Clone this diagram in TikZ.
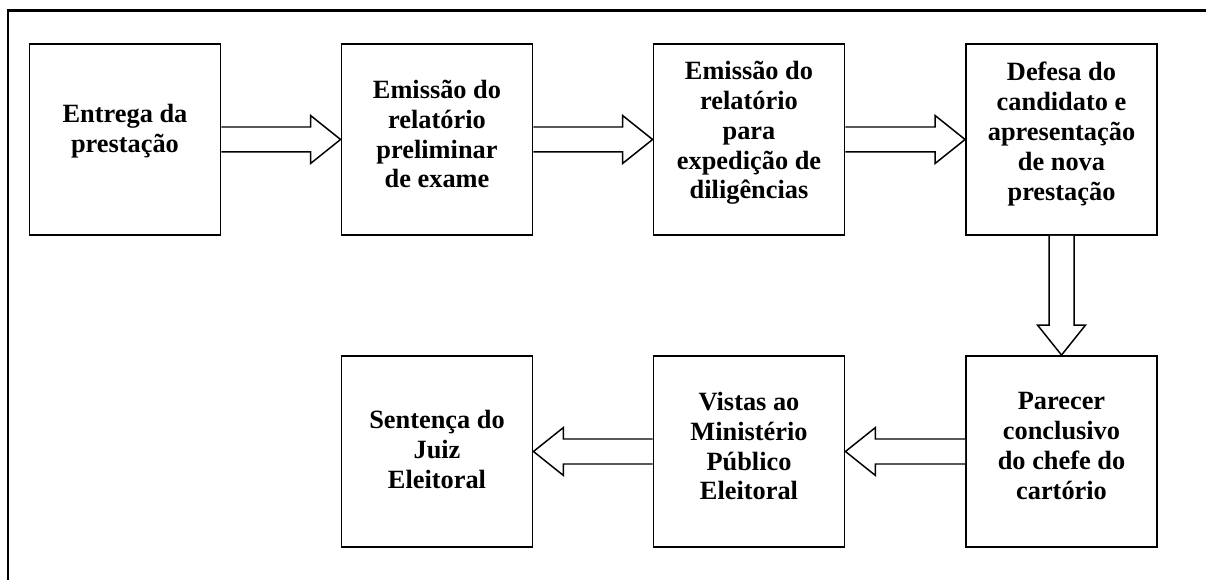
\documentclass[tikz,border=0pt]{standalone}
\usepackage{fontspec}
\setmainfont{Liberation Serif}
\usetikzlibrary{calc}

\tikzset{
  etapa/.style={draw, line width=1.1pt, minimum width=3.82cm, minimum height=3.82cm,
    align=center, font=\bfseries\fontsize{15}{17}\selectfont},
  seta/.style={draw, fill=white, line width=0.85pt, line join=miter},
}

% hollow block arrow from one anchor to another
\newcommand{\setaoca}[2]{%
  \path ($(#2)!0.6cm!(#1)$) coordinate (base);
  \draw[seta] ($(#1)!0.25cm!90:(#2)$) -- ($(base)!0.25cm!90:(#2)$)
    -- ($(base)!0.48cm!90:(#2)$) -- (#2) -- ($(base)!0.48cm!-90:(#2)$)
    -- ($(base)!0.25cm!-90:(#2)$) -- ($(#1)!0.25cm!-90:(#2)$);
}

\begin{document}
\begin{tikzpicture}[x=0.02cm, y=-0.02cm]
  \useasboundingbox (0,0) rectangle (1206,580);
  \draw[line width=1.7pt, line join=miter] (8,600) |- (1226,11);

  \node[etapa, text depth=0.43cm] (1) at (125,139.5) {Entrega da\\prestação};
  \node[etapa, text depth=0.22cm] (2) at (437,139.5) {Emissão do\\relatório\\preliminar\\de exame};
  \node[etapa, text depth=0.38cm] (3) at (749,139.5) {Emissão do\\relatório\\para\\expedição de\\diligências};
  \node[etapa, text depth=0.34cm] (4) at (1061.5,139.5) {Defesa do\\candidato e\\apresentação\\de nova\\prestação};
  \node[etapa, text depth=0.22cm] (5) at (1061.5,451.5) {Parecer\\conclusivo\\do chefe do\\cartório};
  \node[etapa, text depth=0.22cm] (6) at (749,451.5) {Vistas ao\\Ministério\\Público\\Eleitoral};
  \node[etapa, text depth=0.1cm] (7) at (437,451.5) {Sentença do\\Juiz\\Eleitoral};

  \setaoca{1.east}{2.west}
  \setaoca{2.east}{3.west}
  \setaoca{3.east}{4.west}
  \setaoca{4.south}{5.north}
  \setaoca{5.west}{6.east}
  \setaoca{6.west}{7.east}
\end{tikzpicture}
\end{document}
